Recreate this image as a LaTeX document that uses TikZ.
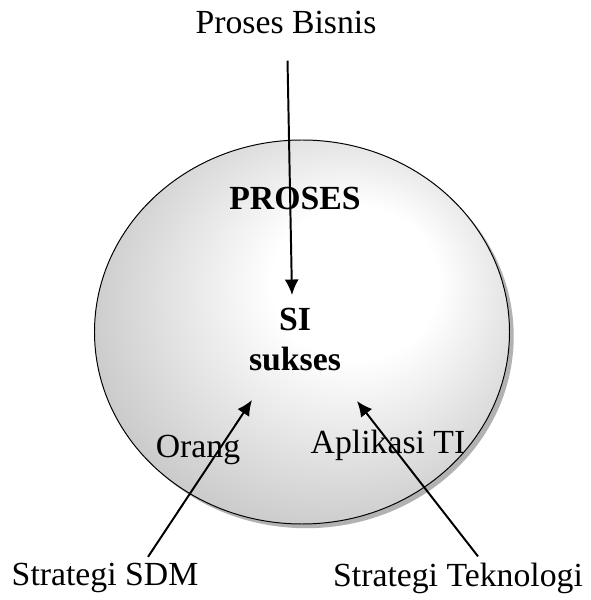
\documentclass[tikz,border=0pt]{standalone}
\usepackage{fontspec}
\setmainfont{Liberation Serif}
\usetikzlibrary{arrows.meta,shapes.geometric,shadows}

\pgfdeclareradialshading{prosesshade}{\pgfpoint{8bp}{8bp}}{color(0bp)=(white); color(10bp)=(white); color(50bp)=(black!42)}

\begin{document}
\begin{tikzpicture}[
  teks/.style={font=\fontsize{24}{28.5}\selectfont, inner sep=0pt},
  judul/.style={teks, font=\fontsize{24}{28.5}\selectfont\bfseries},
  panah/.style={-{Latex[length=11pt,width=10pt]}, line width=1.4pt},
  bola/.style={ellipse, draw, line width=0.7pt, minimum width=10.375cm, minimum height=9.6cm,
    shade, shading=prosesshade,
    drop shadow={shadow xshift=3pt, shadow yshift=-3pt, fill=black!60}}]
\useasboundingbox (0,0) rectangle (14.775,15);
\node[teks] (bisnis) at (7.15,14.45) {Proses Bisnis};
\node[bola] (proses) at (7.55,6.7) {};
\node[judul] (judul) at (7.375,10.05) {PROSES};
\node[judul, align=center] (si) at (7.375,6.5) {SI\\sukses};
\node[teks] (orang) at (4.95,3.75) {Orang};
\node[teks] (apl) at (9.7,3.875) {Aplikasi TI};
\node[teks] (sdm) at (2.625,0.55) {Strategi SDM};
\node[teks] (tek) at (11.45,0.55) {Strategi Teknologi};
% ujung panah
\coordinate (tipsi) at (7.3,7.625);
\coordinate (tiporang) at (6.3,5.0);
\coordinate (tipapl) at (8.925,4.975);
\draw[panah, shorten <=0.675cm] ([xshift=0.025cm]bisnis.south) -- (tipsi);
\draw[panah] ([xshift=1.075cm,yshift=0.15cm]sdm.north) -- (tiporang);
\draw[panah] ([xshift=0.5cm,yshift=0.15cm]tek.north) -- (tipapl);
\end{tikzpicture}
\end{document}
